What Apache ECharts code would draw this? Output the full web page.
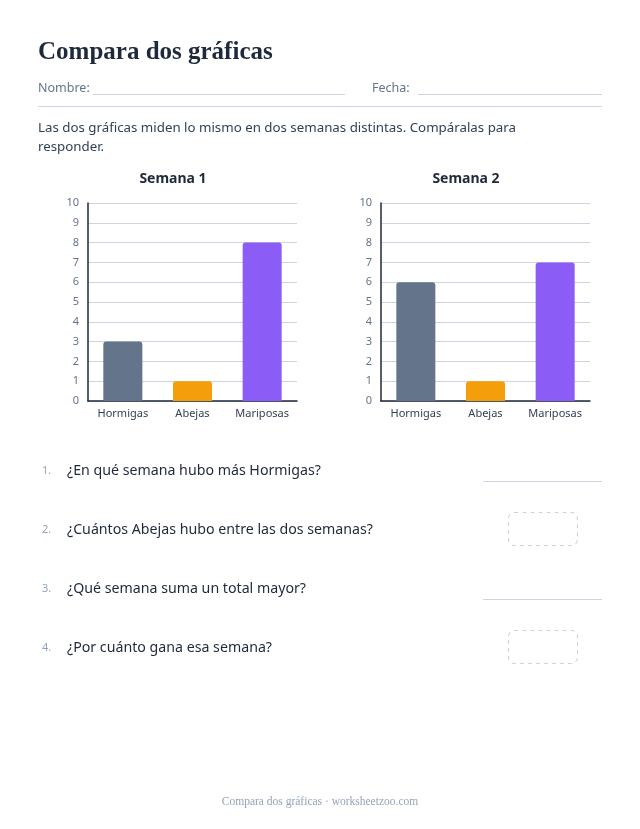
<!DOCTYPE html>
<html><head><meta charset="utf-8">
<script src="https://cdn.jsdelivr.net/npm/echarts@6/dist/echarts.min.js"></script>
<style>html,body{margin:0;padding:0;background:#fff}#c{width:640px;height:829px}</style>
</head><body><div id="c"></div>
<script>
const categories = ['Hormigas', 'Abejas', 'Mariposas'];
const week1 = [3, 1, 8];
const week2 = [6, 1, 7];
const chartTitles = ['Semana 1', 'Semana 2'];
const yTicks = [0, 1, 2, 3, 4, 5, 6, 7, 8, 9, 10];
const questions = [
  '¿En qué semana hubo más Hormigas?',
  '¿Cuántos Abejas hubo entre las dos semanas?',
  '¿Qué semana suma un total mayor?',
  '¿Por cuánto gana esa semana?'
];
const barColors = ['#64748b', '#f59e0b', '#8b5cf6'];
const F = '"Noto Sans", Lato, sans-serif';

const chart = echarts.init(document.getElementById('c'), null, {renderer: 'canvas'});
const grids = [
  {left: 88, top: 203, width: 209, height: 198},
  {left: 381, top: 203, width: 209, height: 198}
];
const titleX = [173, 466];
function xAxis(i) {
  return {type: 'category', gridIndex: i, data: categories,
    axisLine: {lineStyle: {color: '#1e293b', width: 1.5}}, axisTick: {show: false},
    axisLabel: {color: '#334155', fontSize: 11, fontFamily: F, margin: 7, interval: 0}};
}
function yAxis(i) {
  return {type: 'value', gridIndex: i, min: 0, max: 10, interval: 1,
    axisLine: {show: true, lineStyle: {color: '#1e293b', width: 1.5}}, axisTick: {show: false},
    splitLine: {lineStyle: {color: '#cbd5e1', width: 1}},
    axisLabel: {color: '#64748b', fontSize: 11, fontFamily: F, margin: 9,
      formatter: v => yTicks.includes(v) ? String(v) : ''}};
}
function series(i, vals) {
  return {type: 'bar', xAxisIndex: i, yAxisIndex: i, barWidth: '56%',
    data: vals.map((v, k) => ({value: v, itemStyle: {color: barColors[k], borderRadius: [3, 3, 0, 0]}})),
    silent: true};
}
const g = [];
g.push({type: 'text', left: 38, top: 40, style: {text: 'Compara dos gráficas', font: 'bold 25px "Liberation Serif", serif', fill: '#1e293b'}});
g.push({type: 'text', left: 38, top: 82, style: {text: 'Nombre:', font: '12.5px ' + F, fill: '#64748b'}});
g.push({type: 'line', shape: {x1: 93, y1: 94.5, x2: 345, y2: 94.5}, style: {stroke: '#cbd5e1', lineWidth: 1}});
g.push({type: 'text', left: 372, top: 82, style: {text: 'Fecha:', font: '12.5px ' + F, fill: '#64748b'}});
g.push({type: 'line', shape: {x1: 418, y1: 94.5, x2: 602, y2: 94.5}, style: {stroke: '#cbd5e1', lineWidth: 1}});
g.push({type: 'line', shape: {x1: 38, y1: 106.5, x2: 602, y2: 106.5}, style: {stroke: '#cbd5e1', lineWidth: 1.2}});
g.push({type: 'text', left: 38, top: 119, style: {text: 'Las dos gráficas miden lo mismo en dos semanas distintas. Compáralas para\nresponder.', font: '13.3px ' + F, fill: '#334155', lineHeight: 19}});
chartTitles.forEach((t, i) => {
  g.push({type: 'text', x: titleX[i], y: 172, style: {text: t, font: 'bold 14px ' + F, fill: '#1e293b', textAlign: 'center'}});
});
const qy = [471, 530, 589, 648];
questions.forEach((q, i) => {
  g.push({type: 'text', x: 42, y: qy[i] - 6, style: {text: (i + 1) + '.', font: '11px ' + F, fill: '#94a3b8'}});
  g.push({type: 'text', x: 67, y: qy[i] - 7, style: {text: q, font: '14.2px ' + F, fill: '#1e293b'}});
  if (i % 2 === 0) {
    g.push({type: 'line', shape: {x1: 483, y1: qy[i] + 10.5, x2: 602, y2: qy[i] + 10.5}, style: {stroke: '#cbd5e1', lineWidth: 1}});
  } else {
    g.push({type: 'rect', shape: {x: 508.5, y: qy[i] - 17.5, width: 69, height: 33, r: 6}, style: {fill: 'none', stroke: '#cbd5e1', lineWidth: 1.2, lineDash: [4, 4]}});
  }
});
g.push({type: 'text', x: 320, y: 796, style: {text: 'Compara dos gráficas · worksheetzoo.com', font: '11.5px "Liberation Serif", serif', fill: '#94a3b8', textAlign: 'center'}});

chart.setOption({
  animation: false,
  grid: grids,
  xAxis: [xAxis(0), xAxis(1)],
  yAxis: [yAxis(0), yAxis(1)],
  series: [series(0, week1), series(1, week2)],
  graphic: g
});
</script></body></html>
